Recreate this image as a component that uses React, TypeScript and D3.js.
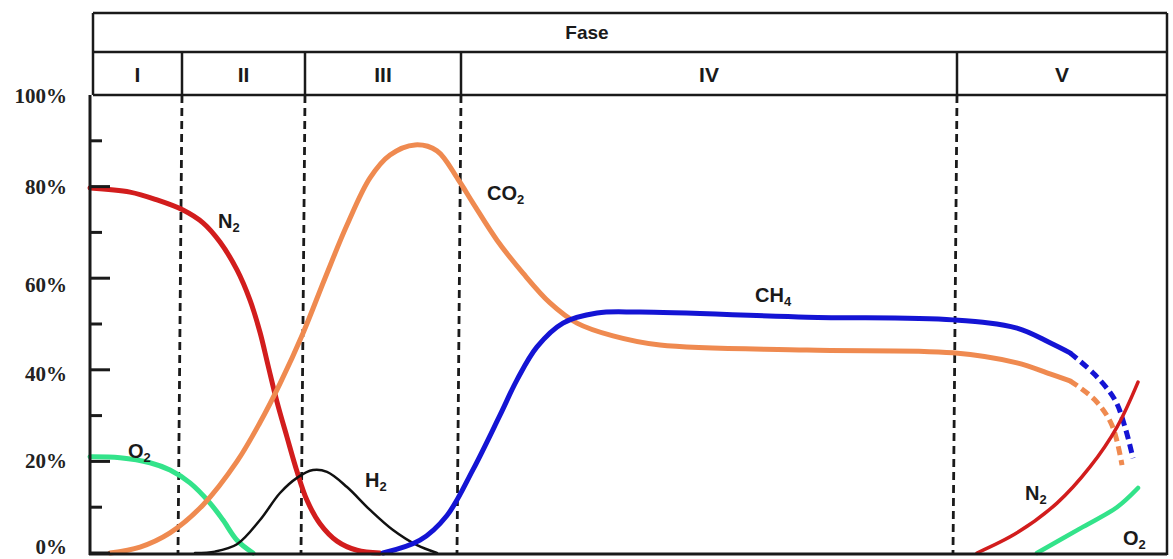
import React, { useEffect, useRef } from 'react';
import * as d3 from 'd3';

type Pt = [number, number];

// x: arbitrary time units (0..1077), y: gas share in %
const phases = ['I', 'II', 'III', 'IV', 'V'];
const phaseEdges = [0, 92, 215, 371, 867, 1077];
const yTicks = [0, 10, 20, 30, 40, 50, 60, 70, 80, 90, 100];
const yLabels = [0, 20, 40, 60, 80, 100];

const n2Early: Pt[] = [
  [0, 79.7], [40, 78.8], [67, 77.1], [93, 74.9], [113, 72.1], [130, 67.9], [147, 61.8],
  [160, 55.2], [170, 48.2], [178, 41.0], [187, 33.0], [197, 25.3], [207, 17.8], [217, 11.5],
  [230, 6.4], [247, 2.6], [267, 0.6], [290, 0],
];
const o2Early: Pt[] = [
  [0, 21.0], [30, 20.8], [60, 19.7], [80, 18.1], [100, 15.3], [120, 10.9], [133, 7.2],
  [147, 2.8], [163, 0],
];
const co2Solid: Pt[] = [
  [20, 0], [50, 1.3], [80, 4.4], [113, 10.5], [147, 20.0], [170, 28.5], [190, 37.0],
  [213, 48.0], [235, 60.0], [257, 71.6], [280, 81.9], [300, 86.9], [325, 89.1],
  [347, 87.8], [368, 81.6], [383, 76.4], [407, 68.3], [433, 61.1], [460, 54.6],
  [487, 50.2], [523, 47.4], [570, 45.4], [717, 44.3], [863, 43.7], [927, 41.5],
  [960, 39.1], [980, 37.6],
];
const co2Dashed: Pt[] = [[980, 37.6], [1005, 33.4], [1022, 27.9], [1032, 19.2]];
const ch4Solid: Pt[] = [
  [293, 0], [330, 2.8], [357, 8.2], [383, 18.2], [410, 30.1], [427, 37.8], [447, 45.0],
  [473, 50.2], [507, 52.4], [550, 52.6], [717, 51.5], [863, 50.9], [927, 49.1],
  [960, 45.9], [980, 43.7],
];
const ch4Dashed: Pt[] = [[980, 43.7], [1005, 38.9], [1025, 33.4], [1035, 27.5], [1043, 20.7]];
const h2: Pt[] = [
  [105, 0], [125, 0.3], [147, 1.9], [170, 7.2], [190, 13.1], [207, 16.4], [223, 18.1],
  [237, 17.7], [257, 14.4], [280, 9.4], [303, 5.0], [327, 1.7], [347, 0],
];
const n2Late: Pt[] = [[887, 0], [927, 4.4], [967, 10.9], [1000, 18.8], [1027, 27.5], [1048, 37.3]];
const o2Late: Pt[] = [[947, 0], [993, 5.7], [1027, 10.0], [1048, 14.2]];

const seriesLines = [
  { data: n2Early, color: '#d21d1d', width: 5, dashed: false },
  { data: o2Early, color: '#33e38a', width: 5, dashed: false },
  { data: h2, color: '#111111', width: 2.5, dashed: false },
  { data: co2Solid, color: '#ef8a50', width: 5, dashed: false },
  { data: co2Dashed, color: '#ef8a50', width: 5, dashed: true },
  { data: ch4Solid, color: '#1414d4', width: 5, dashed: false },
  { data: ch4Dashed, color: '#1414d4', width: 5, dashed: true },
  { data: n2Late, color: '#d21d1d', width: 3.5, dashed: false },
  { data: o2Late, color: '#33e38a', width: 4.5, dashed: false },
];

// gas name, subscript, text start (x in time units) and baseline (y in %)
const gasLabels: { name: string; sub: string; t: number; v: number }[] = [
  { name: 'N', sub: '2', t: 128, v: 71 },
  { name: 'CO', sub: '2', t: 397, v: 77 },
  { name: 'CH', sub: '4', t: 665, v: 54.8 },
  { name: 'H', sub: '2', t: 275, v: 14.4 },
  { name: 'O', sub: '2', t: 38, v: 20.7 },
  { name: 'N', sub: '2', t: 935, v: 11.6 },
  { name: 'O', sub: '2', t: 1033, v: 1.7 },
];

const W = 1173;
const H = 559;

export default function App() {
  const svgRef = useRef<SVGSVGElement>(null);

  useEffect(() => {
    if (!svgRef.current) return;
    const svg = d3.select(svgRef.current);
    svg.selectAll('*').remove();

    const x = d3.scaleLinear().domain([0, 1077]).range([90, 1167]);
    const y = d3.scaleLinear().domain([0, 100]).range([553, 95]);

    const headerTop = 13;
    const headerMid = 52;
    const headerBottom = y(100);
    const frameLeft = x(0) + 3;
    const frameRight = x(1077);
    const ink = '#1a1a1a';
    const sans = '"Liberation Sans", Arial, sans-serif';

    // phase boundaries (dashed in plot area)
    phaseEdges.slice(1, -1).forEach(e => {
      svg.append('line')
        .attr('x1', x(e)).attr('x2', x(e) - 4)
        .attr('y1', headerBottom).attr('y2', y(0))
        .attr('stroke', ink)
        .attr('stroke-width', 2.8)
        .attr('stroke-dasharray', '8,5');
    });

    // curves
    const line = d3.line<Pt>()
      .x(d => x(d[0]))
      .y(d => y(d[1]))
      .curve(d3.curveCatmullRom.alpha(0.5));

    seriesLines.forEach(s => {
      svg.append('path')
        .datum(s.data)
        .attr('fill', 'none')
        .attr('stroke', s.color)
        .attr('stroke-width', s.width)
        .attr('stroke-linecap', s.dashed ? 'butt' : 'round')
        .attr('stroke-dasharray', s.dashed ? '9,5' : null)
        .attr('d', line);
    });

    // header table
    const hdr = svg.append('g').attr('stroke', ink).attr('stroke-width', 2.5);
    [headerTop, headerMid, headerBottom].forEach(hy => {
      hdr.append('line').attr('x1', frameLeft).attr('x2', frameRight).attr('y1', hy).attr('y2', hy);
    });
    hdr.append('line').attr('x1', frameLeft).attr('x2', frameLeft).attr('y1', headerTop).attr('y2', headerBottom);
    hdr.append('line').attr('x1', frameRight).attr('x2', frameRight).attr('y1', headerTop).attr('y2', y(0) + 2);
    phaseEdges.slice(1, -1).forEach(e => {
      hdr.append('line').attr('x1', x(e)).attr('x2', x(e)).attr('y1', headerMid).attr('y2', headerBottom);
    });

    svg.append('text')
      .attr('x', 587).attr('y', (headerTop + headerMid) / 2)
      .attr('text-anchor', 'middle')
      .attr('dominant-baseline', 'central')
      .attr('font-family', sans)
      .attr('font-weight', 'bold')
      .attr('font-size', 19)
      .attr('fill', ink)
      .text('Fase');

    phases.forEach((p, i) => {
      const left = i === 0 ? frameLeft : x(phaseEdges[i]);
      const right = x(phaseEdges[i + 1]);
      svg.append('text')
        .attr('x', (left + right) / 2)
        .attr('y', (headerMid + headerBottom) / 2 + 1)
        .attr('text-anchor', 'middle')
        .attr('dominant-baseline', 'central')
        .attr('font-family', sans)
        .attr('font-weight', 'bold')
        .attr('font-size', 21)
        .attr('fill', ink)
        .text(p);
    });

    // y axis
    const axis = svg.append('g').attr('stroke', ink).attr('stroke-width', 3);
    axis.append('line').attr('x1', x(0)).attr('x2', x(0)).attr('y1', headerBottom).attr('y2', y(0) + 2);
    axis.append('line').attr('x1', x(0) - 1).attr('x2', frameRight).attr('y1', y(0) + 1).attr('y2', y(0) + 1);
    yTicks.filter(t => t < 100).forEach(t => {
      const major = yLabels.includes(t);
      axis.append('line')
        .attr('x1', x(0)).attr('x2', x(0) + (major ? 20 : 12))
        .attr('y1', y(t)).attr('y2', y(t));
    });

    // the printed labels sit a little off their ticks in the original scan
    const nudge: Record<number, number> = { 0: -6, 40: 4, 60: 7, 80: 0, 100: 1 };
    yLabels.forEach(t => {
      svg.append('text')
        .attr('x', 67)
        .attr('y', y(t) + (nudge[t] ?? 0))
        .attr('text-anchor', 'end')
        .attr('dominant-baseline', 'central')
        .attr('font-family', '"Liberation Serif", "Times New Roman", serif')
        .attr('font-weight', 'bold')
        .attr('font-size', 21)
        .attr('fill', '#222')
        .text(`${t}%`);
    });

    // gas labels
    gasLabels.forEach(l => {
      const txt = svg.append('text')
        .attr('x', x(l.t))
        .attr('y', y(l.v))
        .attr('font-family', sans)
        .attr('font-weight', 'bold')
        .attr('font-size', 20)
        .attr('fill', ink);
      txt.append('tspan').text(l.name);
      txt.append('tspan').attr('font-size', 13).attr('dy', 4).text(l.sub);
    });
  }, []);

  return (
    <svg
      ref={svgRef}
      width={W}
      height={H}
      style={{ position: 'absolute', left: 0, top: 0, background: '#fff' }}
    />
  );
}
